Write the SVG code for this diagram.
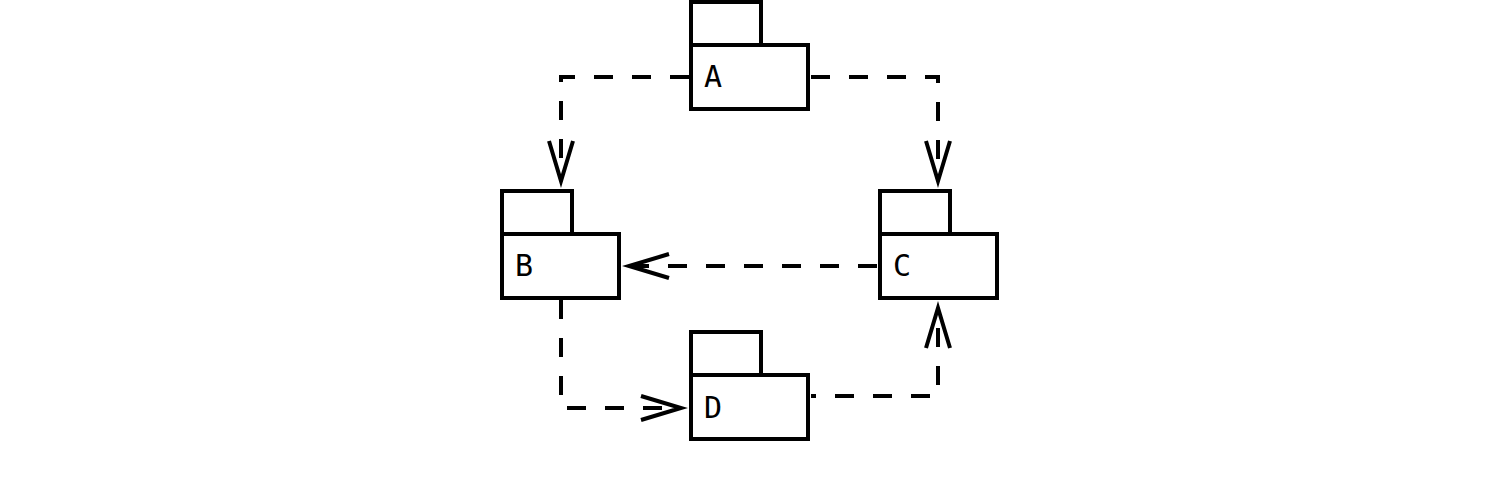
<svg xmlns="http://www.w3.org/2000/svg" width="1500" height="483" viewBox="0 0 1500 483">
<style>
.box{fill:#fff;stroke:#000;stroke-width:4}
.lbl{font-family:"DejaVu Sans Mono","Liberation Mono",monospace;font-size:30px;fill:#000}
.dep{fill:none;stroke:#000;stroke-width:4;stroke-dasharray:19 19}
</style>
<defs>
<marker id="open" markerUnits="userSpaceOnUse" viewBox="-50 -20 60 40" markerWidth="60" markerHeight="40" refX="0" refY="0" orient="auto" overflow="visible">
<path d="M-40,-12 L0,0 L-40,12" fill="none" stroke="#000" stroke-width="4" stroke-linejoin="miter" stroke-dasharray="none"/>
</marker>
</defs>
<rect width="1500" height="483" fill="#fff"/>
<g id="connectors">
<path class="dep" d="M689,77 H561 V181" marker-end="url(#open)"/>
<path class="dep" d="M811,77 H938 V181" marker-end="url(#open)"/>
<path class="dep" d="M878,266 H629" stroke-dashoffset="-1" marker-end="url(#open)"/>
<path class="dep" d="M561,300 V408 H681" marker-end="url(#open)"/>
<path class="dep" d="M811,396 H938 V308" stroke-dashoffset="14" marker-end="url(#open)"/>
</g>
<g id="A">
<rect class="box" x="691" y="2" width="70" height="43"/>
<rect class="box" x="691" y="45" width="117" height="64"/>
<text class="lbl" x="704" y="87">A</text>
</g>
<g id="B">
<rect class="box" x="502" y="191" width="70" height="43"/>
<rect class="box" x="502" y="234" width="117" height="64"/>
<text class="lbl" x="515" y="276">B</text>
</g>
<g id="C">
<rect class="box" x="880" y="191" width="70" height="43"/>
<rect class="box" x="880" y="234" width="117" height="64"/>
<text class="lbl" x="893" y="276">C</text>
</g>
<g id="D">
<rect class="box" x="691" y="332" width="70" height="43"/>
<rect class="box" x="691" y="375" width="117" height="64"/>
<text class="lbl" x="704" y="418">D</text>
</g>
</svg>
